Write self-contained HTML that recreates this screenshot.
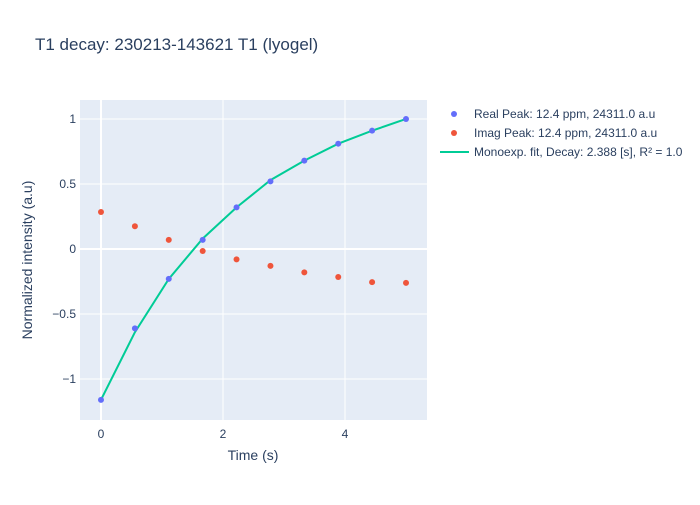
<!DOCTYPE html>
<html><head><meta charset="utf-8"><style>
body{margin:0;background:#fff;font-family:"Liberation Sans",Arial,sans-serif;}
svg text{font-family:"Liberation Sans",Arial,sans-serif;}
</style></head><body>
<svg id="chart" width="700" height="500" xmlns="http://www.w3.org/2000/svg">
<rect width="700" height="500" fill="#fff"/>
<text x="35" y="50" font-size="17" fill="#2a3f5f">T1 decay: 230213-143621 T1 (lyogel)</text>
<rect x="80" y="100" width="347" height="320" fill="#e5ecf6"/>
<g id="grid"></g><g id="marks"></g><g id="axes"></g>
<text x="253" y="460" font-size="14" fill="#2a3f5f" text-anchor="middle">Time (s)</text>
<text transform="translate(32,260) rotate(-90)" font-size="14" fill="#2a3f5f" text-anchor="middle">Normalized intensity (a.u)</text>
<g>
<g><circle cx="454" cy="114" r="3" fill="#636efa"/><text x="474" y="118" font-size="12" fill="#2a3f5f">Real Peak: 12.4 ppm, 24311.0 a.u</text></g>
<g><circle cx="454" cy="133" r="3" fill="#ef553b"/><text x="474" y="137" font-size="12" fill="#2a3f5f">Imag Peak: 12.4 ppm, 24311.0 a.u</text></g>
<g><line x1="440" y1="152" x2="469" y2="152" stroke="#00cc96" stroke-width="2"/><text x="474" y="156" font-size="12" fill="#2a3f5f">Monoexp. fit, Decay: 2.388 [s], R² = 1.0</text></g>
</g>
</svg>
<script>
const times=[0,0.556,1.111,1.667,2.222,2.778,3.333,3.889,4.444,5.0];
const realVals=[-1.16,-0.61,-0.23,0.07,0.32,0.52,0.68,0.81,0.91,1.0];
const imagVals=[0.285,0.175,0.07,-0.015,-0.08,-0.13,-0.18,-0.215,-0.255,-0.26];
const fitVals=[-1.16,-0.64,-0.23,0.08,0.32,0.53,0.68,0.81,0.91,1.0];
const xTicks=[0,2,4];
const yTicks=[1,0.5,0,-0.5,-1];
const yTickLabels=["1","0.5","0","−0.5","−1"];
const NS="http://www.w3.org/2000/svg";
const X0=80,X1=427,Y0=100,Y1=420,xMin=-0.344,xMax=5.344,yMin=-1.315,yMax=1.146;
const sx=v=>X0+(v-xMin)/(xMax-xMin)*(X1-X0);
const sy=v=>Y1-(v-yMin)/(yMax-yMin)*(Y1-Y0);
function mk(tag,attrs,parent){const e=document.createElementNS(NS,tag);for(const k in attrs)e.setAttribute(k,attrs[k]);document.getElementById(parent).appendChild(e);return e;}
xTicks.forEach(t=>{
 const l=mk('line',{x1:sx(t),x2:sx(t),y1:Y0,y2:Y1,stroke:'#fff','stroke-width':t===0?2:1},'grid');
 
 
 const tx=mk('text',{x:sx(t),y:438,'font-size':12,fill:'#2a3f5f','text-anchor':'middle'},'axes');
 tx.textContent=String(t);
 
 
});
yTicks.forEach((t,i)=>{
 const l=mk('line',{x1:X0,x2:X1,y1:sy(t),y2:sy(t),stroke:'#fff','stroke-width':t===0?2:1},'grid');
 
 
 const tx=mk('text',{x:76,y:sy(t)+4,'font-size':12,fill:'#2a3f5f','text-anchor':'end'},'axes');
 tx.textContent=yTickLabels[i];
 
 
});
const p=mk('polyline',{points:times.map((t,i)=>sx(t)+','+sy(fitVals[i])).join(' '),fill:'none',stroke:'#00cc96','stroke-width':2},'marks');


times.forEach((t,i)=>{
 const c=mk('circle',{cx:sx(t),cy:sy(realVals[i]),r:3,fill:'#636efa'},'marks');
 
 
});
times.forEach((t,i)=>{
 const c=mk('circle',{cx:sx(t),cy:sy(imagVals[i]),r:3,fill:'#ef553b'},'marks');
 
 
});
</script>
</body></html>
